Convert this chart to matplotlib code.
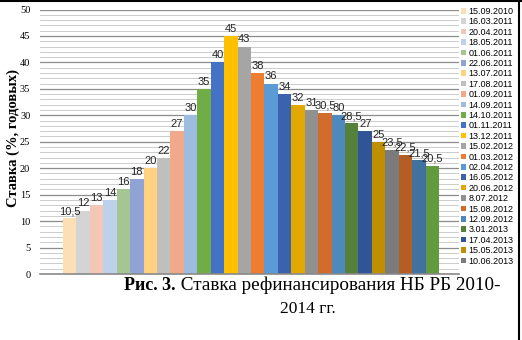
import matplotlib
matplotlib.use("Agg")
import matplotlib.pyplot as plt
from matplotlib.lines import Line2D
from matplotlib.patches import Patch

# данные: ставка рефинансирования НБ РБ
rates = [10.5, 12, 13, 14, 16, 18, 20, 22, 27, 30, 35, 40, 45, 43, 38, 36, 34,
         32, 31, 30.5, 30, 28.5, 27, 25, 23.5, 22.5, 21.5, 20.5]
# в легенде видно только 25 дат, остальное обрезано
dates = ["15.09.2010", "16.03.2011", "20.04.2011", "18.05.2011", "01.06.2011",
         "22.06.2011", "13.07.2011", "17.08.2011", "01.09.2011", "14.09.2011",
         "14.10.2011", "01.11.2011", "13.12.2011", "15.02.2012", "01.03.2012",
         "02.04.2012", "16.05.2012", "20.06.2012", "8.07.2012", "15.08.2012",
         "12.09.2012", "3.01.2013", "17.04.2013", "15.05.2013", "10.06.2013"]
colors = ["#fddfb6", "#d4d4d4", "#f4c6b6", "#bdd1ea", "#a5c692", "#8fa3d4",
          "#ffd181", "#bfbfbf", "#f0a98a", "#9dbde0", "#70ad47", "#4472c4",
          "#ffc000", "#a5a5a5", "#ed7d31", "#5b9bd5", "#3b63ad", "#e0a800",
          "#919191", "#d26c2d", "#4e89bd", "#55813a", "#2f5597", "#bf8f00",
          "#7b7b7b", "#b45e26", "#41729f", "#629a3f"]

fig = plt.figure(figsize=(5.22, 3.40), dpi=100)
ax = fig.add_axes([40/522, 66/340, 419/522, 264.5/340])

bars = []
for i, v in enumerate(rates):
    b = ax.bar(i + 0.5, v, width=1.0, color=colors[i], zorder=2)
    ax.bar_label(b, labels=[("%g" % v).replace(".", ",")], padding=1.5,
                 fontsize=8, family="Liberation Sans", color="#262626")
    bars.append(b)

ax.set_xlim(-1.71, 29.49)
ax.set_ylim(0, 50)
ax.set_yticks(range(0, 51, 5))
ax.set_yticks(range(0, 51, 1), minor=True)
ax.set_xticks([])
ax.tick_params(axis="y", which="both", length=0, pad=7, labelsize=7.5)
for t in ax.get_yticklabels():
    t.set_family("Liberation Serif")
ax.grid(axis="y", which="major", color="#8c8c8c", lw=0.9)
ax.grid(axis="y", which="minor", color="#c4c4c4", lw=0.6)
ax.set_axisbelow(True)
for s in ["top", "right", "left"]:
    ax.spines[s].set_visible(False)
ax.spines["bottom"].set_color("#898989")
ax.spines["bottom"].set_linewidth(1.2)

fig.text(13/522, 1 - 138/340, "Ставка (%, годовых)", rotation=90,
         ha="center", va="center", family="Liberation Serif",
         fontweight="bold", fontsize=10.5)

handles = [Patch(facecolor=colors[i], label=d) for i, d in enumerate(dates)]
fig.legend(handles=handles, loc="upper left",
           bbox_to_anchor=(461/522, 1 - 7/340), frameon=False,
           prop={"family": "Liberation Sans", "size": 6.5},
           handlelength=0.55, handleheight=0.55, handletextpad=0.3,
           labelspacing=0.155, borderpad=0, borderaxespad=0)

# подпись рисунка
t1 = fig.text(124/522, 1 - 290/340, "Рис. 3.", family="Liberation Serif",
              fontweight="bold", fontsize=13, va="baseline")
ax.annotate(" Ставка рефинансирования НБ РБ 2010-", xy=(1, 0),
            xycoords=t1, va="bottom", ha="left",
            family="Liberation Serif", fontsize=13.8, annotation_clip=False)
fig.text(308/522, 1 - 313/340, "2014 гг.", family="Liberation Serif",
         fontsize=12.5, ha="center", va="baseline")

# рамка (верх и правый край)
fig.add_artist(Line2D([0, 1], [0.998, 0.998], color="black", lw=1.5,
                      transform=fig.transFigure))
fig.add_artist(Line2D([519/522, 519/522], [0, 1], color="black", lw=1.5,
                      transform=fig.transFigure))

fig.savefig("out.png", dpi=100)
